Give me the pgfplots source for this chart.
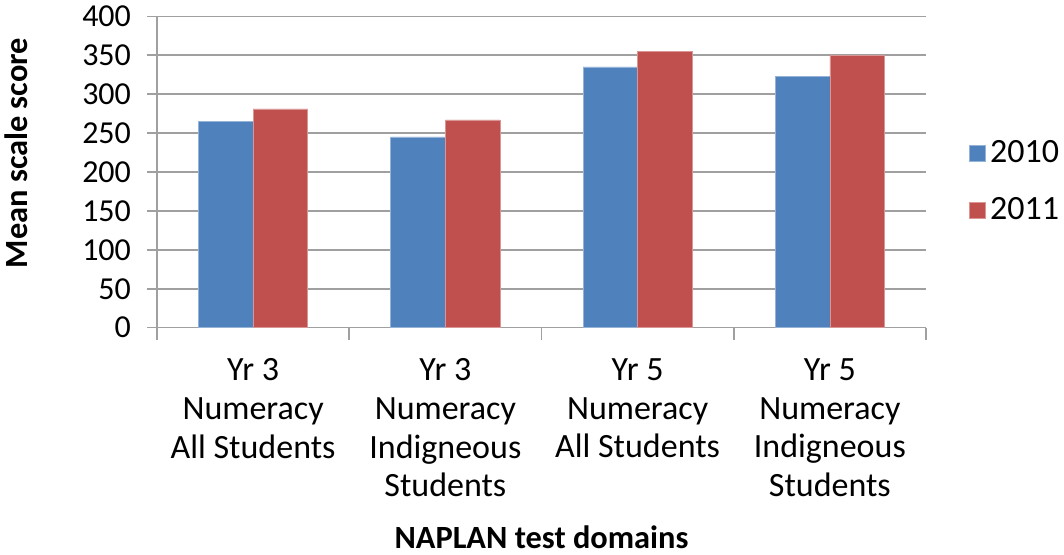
\documentclass[border=0pt]{standalone}
\usepackage{fontspec}
\setmainfont{Carlito}
\usepackage{pgfplots}
\pgfplotsset{compat=1.18}
\definecolor{cblue}{HTML}{4F81BD}
\definecolor{cred}{HTML}{C0504D}
\definecolor{cgrid}{HTML}{A0A0A0}
\begin{document}
\begin{tikzpicture}
\begin{axis}[
  name=ax,
  scale only axis,
  width=384.5pt, height=155.7pt,
  xmin=-0.5, xmax=3.5,
  ymin=0, ymax=400,
  ybar=0pt,
  bar width=0.284,
  xtick={0,1,2,3},
  xticklabels={{Yr 3\\Numeracy\\All Students},{Yr 3\\Numeracy\\Indigneous\\Students},{Yr 5\\Numeracy\\All Students},{Yr 5\\Numeracy\\Indigneous\\Students}},
  major x tick style={draw=none},
  minor xtick={-0.5,0.5,1.5,2.5,3.5},
  minor x tick style={draw=cgrid, line width=0.8pt},
  minor tick length=6pt,
  ytick={0,50,...,400},
  major tick length=5pt,
  tick align=outside,
  y tick style={draw=cgrid, line width=0.8pt},
  ymajorgrids,
  grid style={draw=cgrid, line width=0.8pt},
  axis x line*=bottom,
  axis y line*=left,
  axis line style={draw=cgrid, line width=0.8pt},
  /pgf/number format/assume math mode=true,
  tick label style={font=\fontsize{17}{19.3}\selectfont, text=black},
  xticklabel style={align=center, yshift=-7pt},
  every y tick label/.append style={font=\fontsize{16}{19}\selectfont, anchor=east, xshift=-4.5pt},
  xlabel={NAPLAN test domains},
  ylabel={Mean scale score},
  label style={font=\fontsize{16.2}{19}\selectfont\bfseries},
  xlabel style={at={(rel axis cs:0.5,0)}, anchor=center, yshift=-104.6pt},
  ylabel style={at={(rel axis cs:0,0.561)}, anchor=center, yshift=70.5pt},
  legend style={at={(rel axis cs:1.056,0.47)}, anchor=west, draw=none, fill=none,
    font=\fontsize{17}{20}\selectfont, row sep=12pt, inner sep=0pt,
    /tikz/every even column/.append style={column sep=6pt}},
  legend cell align=left,
  legend image code/.code={\fill[#1] (0pt,-4pt) rectangle (8pt,4pt);},
]
\addplot[fill=cblue, draw=cblue!60!white, line width=0.3pt] coordinates {(0,265) (1,245) (2,335) (3,323)};
\addplot[fill=cred, draw=cred!60!white, line width=0.3pt] coordinates {(0,281) (1,267) (2,355) (3,350)};
\legend{2010,2011}
\end{axis}
\pgfresetboundingbox
\path[use as bounding box] (ax.south west) ++(-78.5pt,-113.65pt) rectangle ++(532pt,277.5pt);
\end{tikzpicture}
\end{document}
